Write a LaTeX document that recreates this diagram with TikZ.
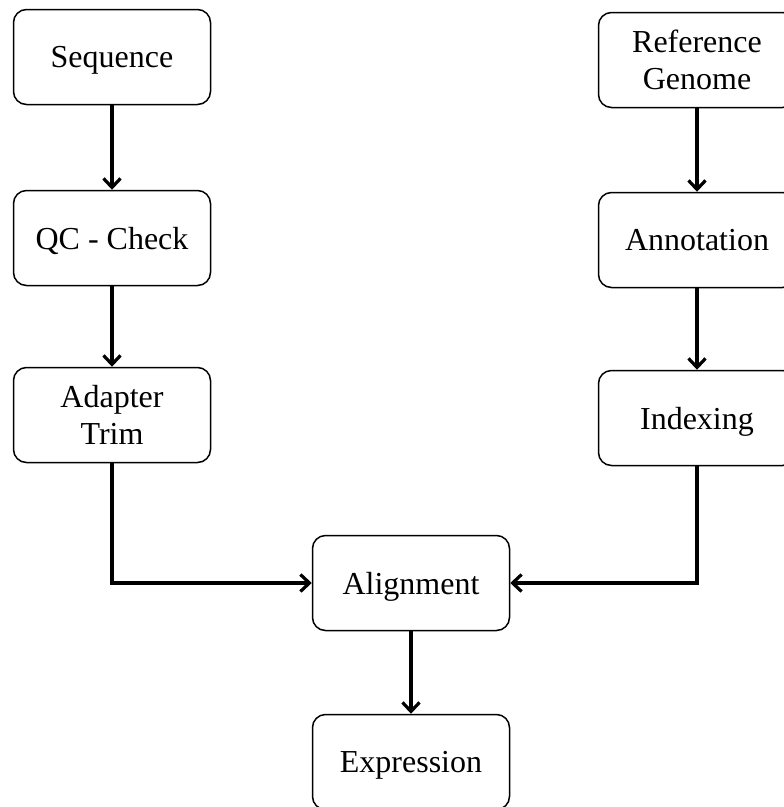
\documentclass[tikz,border=0pt]{standalone}
\usepackage{fontspec}
\setmainfont{Liberation Serif}
\usepackage{tikz}
\usetikzlibrary{calc}
\usetikzlibrary{arrows.meta, positioning}
\tikzset{>={Straight Barb[length=9pt,width=17pt]}}
\tikzset{stagebox/.style={draw,line width=1.5pt,rounded corners=13pt,
    minimum width=197pt,minimum height=95pt,inner sep=0pt,align=center,
    text depth=0pt,font=\fontsize{32}{37}\selectfont}}
\tikzset{flow/.style={->,line width=3.2pt}}

\begin{document}
\begin{tikzpicture}[x=1pt,y=-1pt]
        \clip (0,0) rectangle (784,807);
        \useasboundingbox (0,0) rectangle (784,807);
        \node [stagebox] (seq) at (112,57) {Sequence};
        \node [stagebox] (qc) at (112,238) {QC - Check};
        \node [stagebox] (trim) at (112,415) {Adapter\\Trim};
        \node [stagebox] (ref) at (697,60) {Reference\\Genome};
        \node [stagebox] (annot) at (697,240) {Annotation};
        \node [stagebox] (index) at (697,418) {Indexing};
        \node [stagebox] (align) at (411,583) {Alignment};
        \node [stagebox] (expr) at (411,762) {Expression};
        \draw [flow] (seq) -- (qc);
        \draw [flow] (qc) -- (trim);
        \draw [flow] (ref) -- (annot);
        \draw [flow] (annot) -- (index);
        \draw [flow] (trim.south) |- (align.west);
        \draw [flow] (index.south) |- (align.east);
        \draw [flow] (align) -- (expr);
      \end{tikzpicture}
\end{document}
